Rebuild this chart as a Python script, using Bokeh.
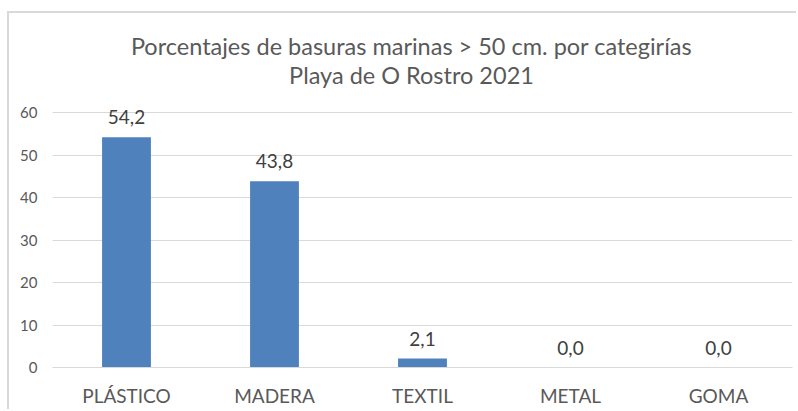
from bokeh.plotting import figure
from bokeh.models import ColumnDataSource, Label, LabelSet, FixedTicker
from bokeh.core.properties import value
from bokeh.embed import file_html
from bokeh.resources import INLINE

categories = ["PLÁSTICO", "MADERA", "TEXTIL", "METAL", "GOMA"]
values = [54.2, 43.8, 2.1, 0.0, 0.0]
y_ticks = [0, 10, 20, 30, 40, 50, 60]
title_line1 = "Porcentajes de basuras marinas > 50 cm. por categirías"
title_line2 = "Playa de O Rostro 2021"

labels = [f"{v:.1f}".replace(".", ",") for v in values]
src = ColumnDataSource(dict(cat=categories, val=values, lab=labels))

FONT = "Lato"
W, H = 789, 398
BOTTOM = 44
AXIS_TOP_PX = 255          # pixel height of the 0..60 span
y_end = 60 * (H - BOTTOM) / AXIS_TOP_PX   # frame extends up to hold the title

p = figure(x_range=categories, y_range=(0, y_end), width=W, height=H,
           output_backend="svg", toolbar_location=None,
           min_border_left=43, min_border_right=6, min_border_bottom=BOTTOM, min_border_top=0)
p.styles = {"border-left": "2px solid #d9d9d9", "border-top": "2px solid #d9d9d9",
            "margin-left": "7px", "margin-top": "11px"}
p.outline_line_color = None

p.vbar(x="cat", top="val", width=0.33, source=src, fill_color="#4F81BD", line_color=None)
p.add_layout(LabelSet(x="cat", y="val", text="lab", source=src, text_align="center",
                      text_baseline="bottom", y_offset=13, text_font=value(FONT),
                      text_font_size="19px", text_color="#404040"))

for txt, ypos in ((title_line1, 30), (title_line2, 59)):
    p.add_layout(Label(x=400, y=ypos, x_units="canvas", y_units="canvas", text=txt,
                       text_align="center", text_baseline="middle", text_font=FONT,
                       text_font_size="23.5px", text_color="#595959"))

p.yaxis.ticker = FixedTicker(ticks=y_ticks)
p.yaxis.axis_line_color = None
p.yaxis.major_tick_line_color = None
p.yaxis.minor_tick_line_color = None
p.yaxis.major_tick_out = 0
p.yaxis.major_tick_in = 0
p.yaxis.major_label_text_font = FONT
p.yaxis.major_label_text_font_size = "15px"
p.yaxis.major_label_text_color = "#595959"
p.yaxis.major_label_standoff = 15

p.xaxis.axis_line_color = "#d9d9d9"
p.xaxis.major_tick_line_color = None
p.xaxis.major_tick_out = 0
p.xaxis.major_tick_in = 0
p.xaxis.major_label_text_font = FONT
p.xaxis.major_label_text_font_size = "19px"
p.xaxis.major_label_text_color = "#595959"
p.xaxis.major_label_standoff = 16

p.xgrid.grid_line_color = None
p.ygrid.grid_line_color = "#d9d9d9"

open("out.html", "w").write(file_html(p, INLINE))
